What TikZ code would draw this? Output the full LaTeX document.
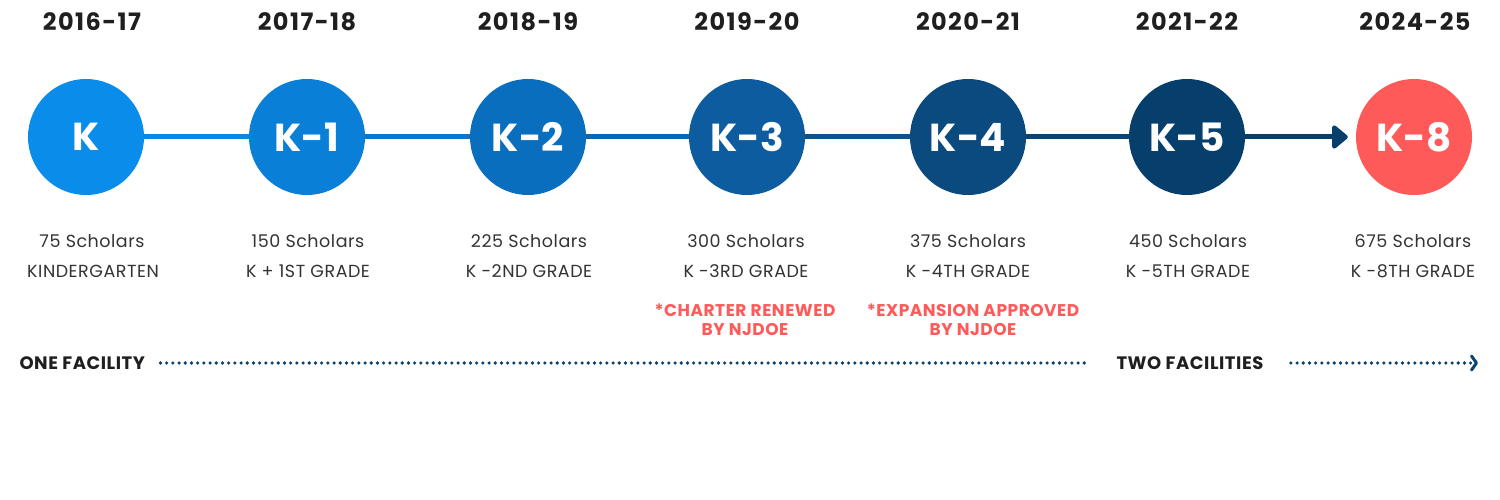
\documentclass[tikz,border=0pt]{standalone}
\usepackage{fontspec}
\setmainfont{Poppins}
\usetikzlibrary{arrows.meta}
\definecolor{gA}{HTML}{0A8DEA}
\definecolor{gB}{HTML}{0A7FD8}
\definecolor{gC}{HTML}{0A6EBF}
\definecolor{gD}{HTML}{0D5C9F}
\definecolor{gE}{HTML}{0A4A7F}
\definecolor{gF}{HTML}{073F6C}
\definecolor{coral}{HTML}{FF5A5A}
\definecolor{navy}{HTML}{0B4470}
\begin{document}
\begin{tikzpicture}[x=1pt,y=-1pt,
  grade/.style={circle,minimum size=116pt,inner sep=0pt,text=white,
    font=\bfseries\fontsize{39}{39}\selectfont},
  year/.style={text=black!88,font=\bfseries\fontsize{24}{24}\selectfont\addfontfeatures{LetterSpace=6}},
  info/.style={text=black!80,font=\fontsize{17.5}{17.5}\selectfont\addfontfeatures{LetterSpace=3}},
  note/.style={text=coral,align=center,font=\bfseries\fontsize{17}{19}\selectfont\addfontfeatures{LetterSpace=3}},
  facility/.style={text=black!88,font=\bfseries\fontsize{18}{18}\selectfont\addfontfeatures{LetterSpace=3}},
  link/.style={line width=5pt},
  dots/.style={navy,line width=3.6pt,line cap=round,dash pattern=on 0pt off 6.2pt}]
\useasboundingbox (0,0) rectangle (1500,500);

% years
\node[year] (y1) at (92,22) {2016-17};
\node[year] (y2) at (307,22) {2017-18};
\node[year] (y3) at (528,22) {2018-19};
\node[year] (y4) at (747,22) {2019-20};
\node[year] (y5) at (968,22) {2020-21};
\node[year] (y6) at (1187,22) {2021-22};
\node[year] (y7) at (1415,22) {2024-25};

% grade circles
\node[grade,fill=gA] (1) at (86,137) {K};
\node[grade,fill=gB] (2) at (307,137) {K-1};
\node[grade,fill=gC] (3) at (528,137) {K-2};
\node[grade,fill=gD] (4) at (747,137) {K-3};
\node[grade,fill=gE] (5) at (968,137) {K-4};
\node[grade,fill=gF] (6) at (1187,137) {K-5};
\node[grade,fill=coral] (7) at (1414,137) {K-8};

\path[draw=gA!60!gB,link] (1) -- (2);
\path[draw=gB!50!gC,link] (2) -- (3);
\path[draw=gC!50!gD,link] (3) -- (4);
\path[draw=gD!50!gE,link] (4) -- (5);
\path[draw=gE!50!gF,link] (5) -- (6);
\path[draw=gF,link,-{Triangle[width=27pt,length=17pt,round]},shorten >=8pt] (6) -- (7);

% scholars
\node[info] (s1) at (92,241) {75 Scholars};
\node[info] (s2) at (308,241) {150 Scholars};
\node[info] (s3) at (529,241) {225 Scholars};
\node[info] (s4) at (746,241) {300 Scholars};
\node[info] (s5) at (968,241) {375 Scholars};
\node[info] (s6) at (1188,241) {450 Scholars};
\node[info] (s7) at (1413,241) {675 Scholars};

\node[info] (g1) at (93,271) {KINDERGARTEN};
\node[info] (g2) at (308,271) {K + 1ST GRADE};
\node[info] (g3) at (529,271) {K -2ND GRADE};
\node[info] (g4) at (746,271) {K -3RD GRADE};
\node[info] (g5) at (968,271) {K -4TH GRADE};
\node[info] (g6) at (1188,271) {K -5TH GRADE};
\node[info] (g7) at (1413,271) {K -8TH GRADE};

% notes
\node[note] (n4) at (745,320) {*CHARTER RENEWED\\BY NJDOE};
\node[note] (n5) at (973,320) {*EXPANSION APPROVED\\BY NJDOE};

% facilities
\node[facility,anchor=west] (f1) at (16,363) {ONE FACILITY};
\coordinate (f1end) at (1085,363);
\node[facility,anchor=west] (f2) at (1113,363) {TWO FACILITIES};
\coordinate (f2end) at (1478,363);
\path[draw,dots] ([xshift=12pt]f1.east) -- (f1end);
\path[draw,dots,-{Straight Barb[length=5pt,width=14pt,line width=3pt,round]}] ([xshift=24pt]f2.east) -- (f2end);
\end{tikzpicture}
\end{document}
